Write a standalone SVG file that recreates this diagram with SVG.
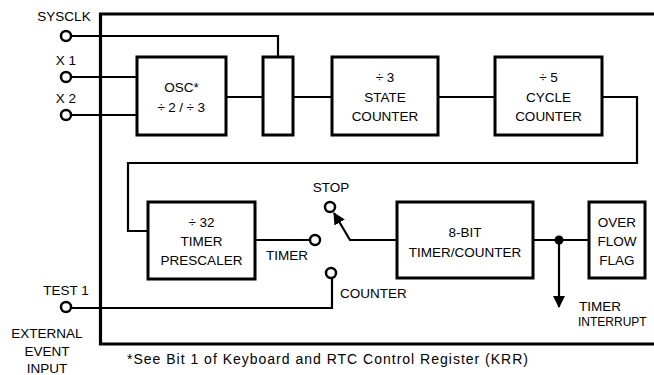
<svg xmlns="http://www.w3.org/2000/svg" width="654" height="375" viewBox="0 0 654 375">
<style>
.b{fill:#fff;stroke:#000;stroke-width:3}
.w{fill:none;stroke:#000;stroke-width:2.2}
.o{fill:none;stroke:#000;stroke-width:3.2}
.t{fill:#fff;stroke:#000;stroke-width:2.5}
text{font-family:"Liberation Sans",Arial,sans-serif;font-size:13.5px;fill:#000}
.c{text-anchor:middle}
.s{font-size:12px}
.f{font-size:14px}
</style>
<defs>
<marker id="ah" markerWidth="12" markerHeight="12" refX="11" refY="6" orient="auto" markerUnits="userSpaceOnUse">
<path d="M0,0 L12,6 L0,12 Z" fill="#000"/>
</marker>
</defs>
<rect width="654" height="375" fill="#fff"/>
<g id="border">
<path class="o" d="M654,14 H100.5 V344 H654"/>
</g>
<g id="connectors">
<path class="w" d="M70,36 H278 V57"/>
<path class="w" d="M70,77 H137"/>
<path class="w" d="M70,115 H137"/>
<path class="w" d="M226,97 H263"/>
<path class="w" d="M293,97 H332"/>
<path class="w" d="M438,97 H495"/>
<path class="w" d="M602,97 H637 V163 H128 V231 H148"/>
<path class="w" d="M255,240 H310"/>
<path class="w" d="M70,308 H332 V278"/>
<path class="w" d="M397,240 H350 L334,213" marker-end="url(#ah)"/>
<path class="w" d="M533,240 H589"/>
<path class="w" d="M559,240 V307" marker-end="url(#ah)"/>
<circle cx="559" cy="240" r="4.5" fill="#000"/>
</g>
<g id="terminals">
<circle class="t" cx="66" cy="36" r="5"/>
<circle class="t" cx="66" cy="77" r="5"/>
<circle class="t" cx="66" cy="115" r="5"/>
<circle class="t" cx="66" cy="307" r="5"/>
<circle class="t" cx="315" cy="240" r="5"/>
<circle class="t" cx="330" cy="207" r="5"/>
<circle class="t" cx="331" cy="273" r="5"/>
</g>
<g id="osc">
<rect class="b" x="137" y="57" width="89" height="78"/>
<text class="c" x="181.5" y="92">OSC*</text>
<text class="c" x="183" y="112" letter-spacing="3.5">÷2/÷3</text>
</g>
<g id="select">
<rect class="b" x="263" y="57" width="30" height="78"/>
</g>
<g id="state">
<rect class="b" x="332" y="57" width="106" height="78"/>
<text class="c" x="385" y="82">÷ 3</text>
<text class="c" x="385" y="102">STATE</text>
<text class="c" x="385" y="121">COUNTER</text>
</g>
<g id="cycle">
<rect class="b" x="495" y="57" width="107" height="78"/>
<text class="c" x="548.5" y="82">÷ 5</text>
<text class="c" x="548.5" y="102">CYCLE</text>
<text class="c" x="548.5" y="121">COUNTER</text>
</g>
<g id="prescaler">
<rect class="b" x="148" y="202" width="107" height="77"/>
<text class="c" x="201.5" y="227">÷ 32</text>
<text class="c" x="201.5" y="246">TIMER</text>
<text class="c" x="201.5" y="265">PRESCALER</text>
</g>
<g id="timer8">
<rect class="b" x="397" y="202" width="136" height="76"/>
<text class="c" x="465" y="237">8-BIT</text>
<text class="c" x="465" y="257">TIMER/COUNTER</text>
</g>
<g id="overflow">
<rect class="b" x="589" y="202" width="56" height="76"/>
<text class="c" x="617" y="227">OVER</text>
<text class="c" x="617" y="246">FLOW</text>
<text class="c" x="617" y="265">FLAG</text>
</g>
<g id="labels">
<text class="c" x="64" y="21">SYSCLK</text>
<text class="c" x="66" y="65">X 1</text>
<text class="c" x="66" y="103">X 2</text>
<text class="c" x="66" y="295">TEST 1</text>
<text class="c" x="47" y="338">EXTERNAL</text>
<text class="c" x="47" y="356">EVENT</text>
<text class="c" x="47" y="373">INPUT</text>
<text class="c" x="287" y="260">TIMER</text>
<text class="c" x="331" y="192">STOP</text>
<text x="340" y="298">COUNTER</text>
<text x="579" y="311">TIMER</text>
<text class="s" x="578" y="326">INTERRUPT</text>
<text class="f" x="127" y="364" textLength="401" lengthAdjust="spacing">*See Bit 1 of Keyboard and RTC Control Register (KRR)</text>
</g>
</svg>
